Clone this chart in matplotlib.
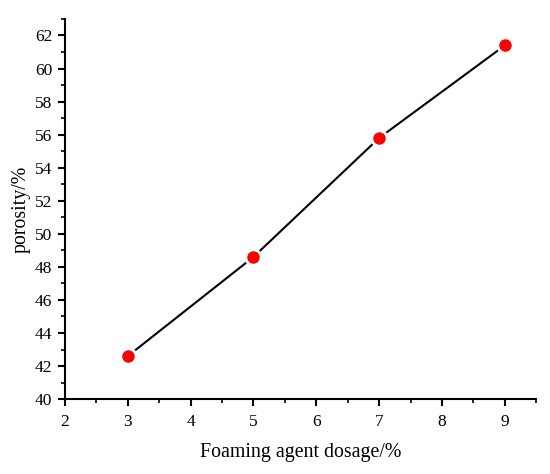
import matplotlib
matplotlib.use("Agg")
import matplotlib.pyplot as plt
from matplotlib.ticker import MultipleLocator

dosage = [3, 5, 7, 9]
porosity = [42.6, 48.6, 55.8, 61.4]

plt.rcParams['font.family'] = ['Liberation Serif', 'DejaVu Serif']

fig = plt.figure(figsize=(5.5, 4.74), dpi=100)
ax = fig.add_axes([0.118, 0.158, 0.857, 0.802])
ax.plot(dosage, porosity, color='black', lw=1.5, marker='o', markersize=11,
        markerfacecolor='#ff0000', markeredgecolor='white', markeredgewidth=2)
ax.set_xlim(2, 9.5)
ax.set_ylim(40, 63)
ax.xaxis.set_major_locator(MultipleLocator(1))
ax.xaxis.set_minor_locator(MultipleLocator(0.5))
ax.yaxis.set_major_locator(MultipleLocator(2))
ax.yaxis.set_minor_locator(MultipleLocator(1))
for s in ['top', 'right']:
    ax.spines[s].set_visible(False)
for s in ['left', 'bottom']:
    ax.spines[s].set_linewidth(1.5)
ax.tick_params(which='major', direction='out', length=5, width=1.5, labelsize=12.5,
               colors='black', pad=4)
ax.tick_params(axis='x', which='major', pad=6)
ax.tick_params(which='minor', direction='out', length=3, width=1.2)
ax.set_xlabel('Foaming agent dosage/%', fontsize=14.3, labelpad=9)
ax.set_ylabel('porosity/%', fontsize=14.3, labelpad=3)
fig.savefig('out.png', dpi=100)
